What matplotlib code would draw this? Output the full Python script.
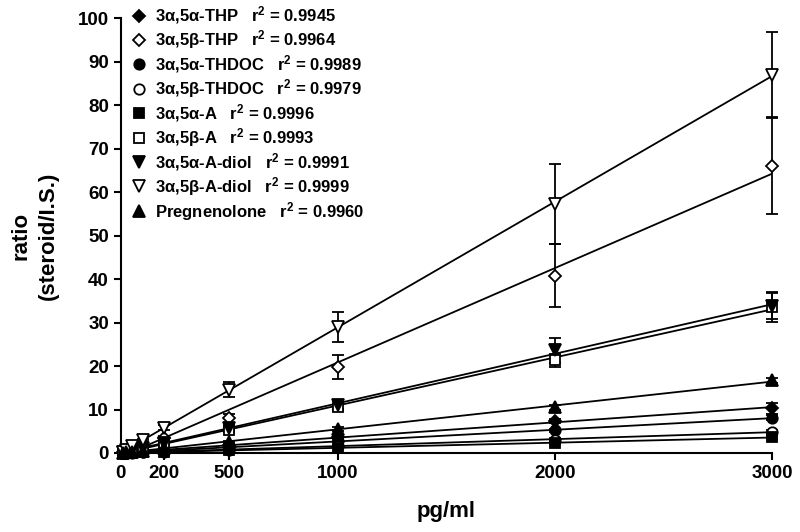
import numpy as np
import matplotlib
matplotlib.use('Agg')
import matplotlib.pyplot as plt

plt.rcParams['font.family'] = ['Liberation Sans', 'DejaVu Sans']
plt.rcParams['font.weight'] = 'bold'
plt.rcParams['mathtext.fontset'] = 'custom'
plt.rcParams['mathtext.rm'] = 'Liberation Sans:bold'
plt.rcParams['mathtext.bf'] = 'Liberation Sans:bold'
plt.rcParams['mathtext.default'] = 'bf'

#-----------------------------------------------------------------------------------------------------------------------------------
# data (pg/ml vs ratio steroid/I.S.)

conc = [10, 25, 50, 100, 200, 500, 1000, 2000, 3000]

names = ['3\u03b1,5\u03b1-THP', '3\u03b1,5\u03b2-THP', '3\u03b1,5\u03b1-THDOC', '3\u03b1,5\u03b2-THDOC',
         '3\u03b1,5\u03b1-A', '3\u03b1,5\u03b2-A', '3\u03b1,5\u03b1-A-diol', '3\u03b1,5\u03b2-A-diol', 'Pregnenolone']
r2 = ['0.9945', '0.9964', '0.9989', '0.9979', '0.9996', '0.9993', '0.9991', '0.9999', '0.9960']

thp_aa     = [0.04, 0.09, 0.18, 0.35, 0.7, 1.8, 3.6, 7.4, 10.3]
thp_ab     = [0.2, 0.5, 1.0, 1.9, 3.4, 8.0, 19.8, 40.8, 66.0]
thdoc_aa   = [0.03, 0.07, 0.13, 0.27, 0.5, 1.3, 2.7, 5.2, 8.1]
thdoc_ab   = [0.02, 0.04, 0.08, 0.16, 0.3, 0.8, 1.6, 3.0, 4.9]
a_aa       = [0.01, 0.03, 0.06, 0.12, 0.25, 0.6, 1.2, 2.3, 3.6]
a_ab       = [0.1, 0.28, 0.55, 1.1, 2.2, 5.4, 10.5, 21.3, 33.6]
adiol_aa   = [0.12, 0.3, 0.6, 1.2, 2.4, 5.8, 11.0, 23.6, 33.8]
adiol_ab   = [0.3, 0.7, 1.5, 3.0, 5.8, 14.6, 29.0, 57.2, 87.0]
preg       = [0.06, 0.14, 0.28, 0.55, 1.1, 2.6, 5.5, 10.5, 16.7]

thp_aa_err   = [0.0, 0.0, 0.01, 0.02, 0.05, 0.1, 0.2, 0.5, 1.3]
thp_ab_err   = [0.02, 0.05, 0.1, 0.2, 0.4, 1.0, 2.8, 7.2, 11.0]
thdoc_aa_err = [0.0, 0.0, 0.01, 0.02, 0.03, 0.1, 0.2, 0.3, 0.6]
thdoc_ab_err = [0.0, 0.0, 0.01, 0.01, 0.02, 0.05, 0.1, 0.2, 0.4]
a_aa_err     = [0.0, 0.0, 0.0, 0.01, 0.02, 0.05, 0.1, 0.2, 0.3]
a_ab_err     = [0.01, 0.02, 0.05, 0.1, 0.2, 0.5, 0.8, 1.5, 3.5]
adiol_aa_err = [0.01, 0.03, 0.05, 0.1, 0.2, 0.5, 0.9, 2.8, 3.0]
adiol_ab_err = [0.03, 0.08, 0.15, 0.3, 0.6, 1.8, 3.5, 9.2, 9.8]
preg_err     = [0.0, 0.01, 0.02, 0.04, 0.08, 0.2, 0.4, 0.6, 0.5]

series = [thp_aa, thp_ab, thdoc_aa, thdoc_ab, a_aa, a_ab, adiol_aa, adiol_ab, preg]
errors = [thp_aa_err, thp_ab_err, thdoc_aa_err, thdoc_ab_err, a_aa_err, a_ab_err, adiol_aa_err, adiol_ab_err, preg_err]
markers = ['D', 'D', 'o', 'o', 's', 's', 'v', 'v', '^']
filled = [True, False, True, False, True, False, True, False, True]
msizes = [6, 6.5, 7.5, 7.5, 7, 7.5, 8, 8.5, 8]

#-----------------------------------------------------------------------------------------------------------------------------------

fig = plt.figure(figsize=(8, 5.32), dpi=100)
ax = fig.add_axes([0.151, 0.1485, 0.814, 0.8175])

x = np.array(conc, dtype=float)
xfit = np.array([0.0, 3000.0])
handles = []
for y, e, m, f, ms in zip(series, errors, markers, filled, msizes):
    y = np.array(y)
    k, b = np.polyfit(x, y, 1)
    ax.plot(xfit, k * xfit + b, color='black', lw=1.3, zorder=2)
    ax.errorbar(x, y, yerr=e, fmt='none', ecolor='black', elinewidth=1.3, capsize=4.5, capthick=1.3,
                zorder=3, clip_on=False)
    h, = ax.plot(x, y, linestyle='none', marker=m, markersize=ms, markeredgecolor='black',
                 markeredgewidth=1.3, markerfacecolor='black' if f else 'white', zorder=4, clip_on=False)
    handles.append(h)

labels = [n + '   r$^2$ = ' + v for n, v in zip(names, r2)]
leg = fig.legend(handles, labels, loc='upper left', bbox_to_anchor=(0.155, 1.004), frameon=False,
                 prop={'size': 12, 'weight': 'bold'}, labelspacing=0.12, handletextpad=0.45,
                 handlelength=1.0, borderaxespad=0)

ax.set_xlim(0, 3000)
ax.set_ylim(0, 100)
ax.set_xticks([0, 200, 500, 1000, 2000, 3000])
ax.set_yticks(np.arange(0, 101, 10))
ax.tick_params(direction='out', length=5, width=1.5, labelsize=13.5)
for lab in ax.get_xticklabels() + ax.get_yticklabels():
    lab.set_fontweight('bold')
for s in ['top', 'right']:
    ax.spines[s].set_visible(False)
for s in ['left', 'bottom']:
    ax.spines[s].set_linewidth(1.5)

ax.set_xlabel('pg/ml', fontsize=16, fontweight='bold', labelpad=14)
ax.set_ylabel('ratio\n(steroid/I.S.)', fontsize=16, fontweight='bold', labelpad=14, linespacing=1.4)

plt.savefig('out.png')
